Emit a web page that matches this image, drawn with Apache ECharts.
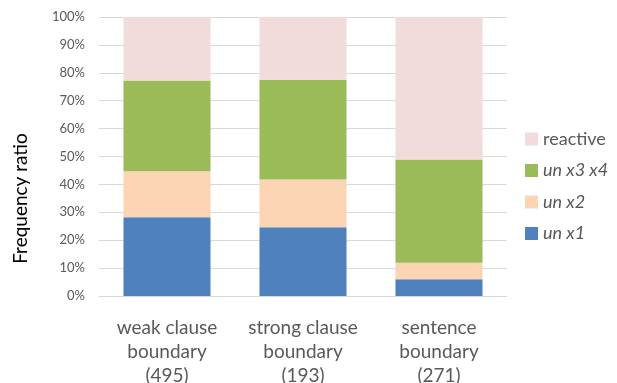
<!DOCTYPE html>
<html>
<head>
<meta charset="utf-8">
<script src="https://cdn.jsdelivr.net/npm/echarts@6/dist/echarts.min.js"></script>
<style>
  html, body { margin: 0; padding: 0; background: #fff; }
  #chart { width: 617px; height: 383px; }
</style>
</head>
<body>
<div id="chart"></div>
<script>
// Boundary categories (sample size in brackets)
const categories = ['weak clause\nboundary\n(495)', 'strong clause\nboundary\n(193)', 'sentence\nboundary\n(271)'];

// Share of each response type per boundary, in percent
const unX1 = [28.2, 24.6, 6.0];
const unX2 = [16.5, 17.2, 5.9];
const unX3X4 = [32.5, 35.7, 37.0];
const reactive = [22.8, 22.5, 51.1];

const yTicks = [0, 10, 20, 30, 40, 50, 60, 70, 80, 90, 100];

const FONT = 'Lato, "Open Sans", sans-serif';
const TEXT = '#595959';

const chart = echarts.init(document.getElementById('chart'), null, { renderer: 'canvas' });

function bar(name, data, color) {
  return {
    name, type: 'bar', stack: 'total', data,
    barWidth: '64%',
    itemStyle: { color },
    emphasis: { disabled: true }
  };
}

chart.setOption({
  animation: false,
  textStyle: { fontFamily: FONT },
  grid: { left: 99, right: 110, top: 17, bottom: 87, containLabel: false, outerBoundsMode: 'none' },
  legend: {
    orient: 'vertical',
    left: 520, top: 125,
    itemWidth: 13, itemHeight: 13, itemGap: 13.5,
    icon: 'rect',
    textStyle: { fontSize: 18, color: TEXT, fontFamily: FONT },
    data: [
      { name: 'reactive' },
      { name: 'un x3 x4', textStyle: { fontStyle: 'italic' } },
      { name: 'un x2', textStyle: { fontStyle: 'italic' } },
      { name: 'un x1', textStyle: { fontStyle: 'italic' } }
    ]
  },
  xAxis: {
    type: 'category',
    data: categories,
    axisLine: { lineStyle: { color: '#d9d9d9', width: 1 } },
    axisTick: { show: false },
    axisLabel: { color: TEXT, fontSize: 19, lineHeight: 24, margin: 20, interval: 0, fontFamily: FONT }
  },
  yAxis: {
    type: 'value',
    min: yTicks[0], max: yTicks[yTicks.length - 1], interval: 10,
    name: 'Frequency ratio',
    nameLocation: 'middle',
    nameGap: 69,
    nameTextStyle: { fontSize: 19, color: '#000', fontFamily: FONT, padding: [0, 84, 0, 0] },
    axisLine: { show: false },
    axisTick: { show: false },
    splitLine: { lineStyle: { color: '#d9d9d9', width: 1 } },
    axisLabel: { color: TEXT, fontSize: 13, margin: 14, formatter: v => v + '%', fontFamily: FONT }
  },
  series: [
    bar('un x1', unX1, '#4f81bd'),
    bar('un x2', unX2, '#fbd4b4'),
    bar('un x3 x4', unX3X4, '#9bbb59'),
    bar('reactive', reactive, '#f2dcdb')
  ]
});
</script>
</body>
</html>
